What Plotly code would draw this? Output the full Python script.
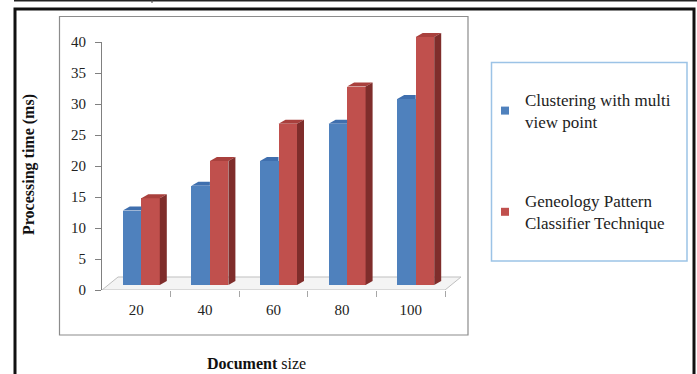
import plotly.graph_objects as go

# ---------------- data ----------------
categories = ["20", "40", "60", "80", "100"]
series_names = ["Clustering with multi<br>view point",
                "Geneology Pattern<br>Classifier Technique"]
clustering = [12, 16, 20, 26, 30]
geneology = [14, 20, 26, 32, 40]
y_ticks = [0, 5, 10, 15, 20, 25, 30, 35, 40]

# ---------------- geometry (pixels) ----------------
W, H = 697, 374
def px(x): return x / W
def py(y): return 1 - y / H

X_LEFT, X_RIGHT = 102, 445      # x axis span (category boundaries)
X_EXTRA = 22                    # room for the 3D floor on the right
Y_ZERO, Y_TOP = 290, 42         # tick 0 and tick 40
BAR_BASE = 285                  # front face base of the bars
Y2_BOTTOM, Y2_TOP = 330, 12     # domain of hidden bar axis
unit_y = (Y_ZERO - Y_TOP) / 40.0
unit_x = (X_RIGHT - X_LEFT) / len(categories)

y2_range = [-(Y2_BOTTOM - BAR_BASE) / unit_y, (BAR_BASE - Y2_TOP) / unit_y]
x_range = [-0.5, len(categories) - 0.5 + X_EXTRA / unit_x]

xs = list(range(len(categories)))
bar_w = 18.5 / unit_x
shift = 5 / unit_x
offsets = [shift - bar_w, shift]
ddx = 7 / unit_x                # 3D depth of bars
ddy = 4 / unit_y

FRONT = ["#4F81BD", "#C0504D"]
TOP = ["#3F6FAE", "#A9403D"]
SIDE = ["#385D8A", "#7F2D2B"]

fig = go.Figure()

# floor (parallelogram) on the visible axis
f_back = (Y_ZERO - 277) / unit_y
f_dx = 16 / unit_x
x_end = len(categories) - 0.5
fig.add_trace(go.Scatter(
    x=[-0.5, x_end, x_end + f_dx, -0.5 + f_dx, -0.5],
    y=[0, 0, f_back, f_back, 0],
    mode="lines", fill="toself", fillcolor="#F4F4F4",
    line=dict(color="#BFBFBF", width=1),
    xaxis="x", yaxis="y", showlegend=False, hoverinfo="skip"))

for k, vals in enumerate([clustering, geneology]):
    fig.add_trace(go.Bar(
        x=xs, y=vals, offset=offsets[k], width=bar_w,
        marker=dict(color=FRONT[k], line=dict(width=0)),
        name=series_names[k].replace("<br>", " "), showlegend=False,
        xaxis="x", yaxis="y2"))

# top and side faces computed from the data
for k, vals in enumerate([clustering, geneology]):
    tx, ty = [], []
    for i, v in zip(xs, vals):
        x0 = i + offsets[k]
        x1 = x0 + bar_w
        if k == 0:
            tx += [x0, x1, x1, x0 + ddx, x0, None]
        else:
            tx += [x0, x1, x1 + ddx, x0 + ddx, x0, None]
        ty += [v, v, v + ddy, v + ddy, v, None]
    fig.add_trace(go.Scatter(
        x=tx, y=ty, mode="lines", fill="toself", fillcolor=TOP[k],
        line=dict(width=0, color=TOP[k]), xaxis="x", yaxis="y2",
        showlegend=False, hoverinfo="skip"))
    if k == 1:
        sx, sy = [], []
        for i, v in zip(xs, vals):
            x1 = i + offsets[k] + bar_w
            sx += [x1, x1, x1 + ddx, x1 + ddx, x1, None]
            sy += [0, v, v + ddy, ddy, 0, None]
        fig.add_trace(go.Scatter(
            x=sx, y=sy, mode="lines", fill="toself", fillcolor=SIDE[k],
            line=dict(width=0, color=SIDE[k]), xaxis="x", yaxis="y2",
            showlegend=False, hoverinfo="skip"))

# legend entries
for k in range(2):
    fig.add_trace(go.Scatter(
        x=[None], y=[None], mode="markers", name=series_names[k],
        marker=dict(symbol="square", size=8, color=FRONT[k]),
        legendgroup=str(k), xaxis="x", yaxis="y"))

SERIF = "Liberation Serif, Times New Roman, serif"

fig.update_layout(
    width=W, height=H,
    margin=dict(l=0, r=0, t=0, b=0, autoexpand=False),
    paper_bgcolor="white", plot_bgcolor="rgba(0,0,0,0)",
    font=dict(family=SERIF, color="#222222", size=14),
    bargap=0,
    xaxis=dict(
        domain=[px(X_LEFT), px(X_RIGHT + X_EXTRA)], range=x_range,
        tickmode="array", tickvals=xs, ticktext=categories,
        ticks="", showgrid=False, zeroline=False, showline=False,
        tickfont=dict(family=SERIF, size=15, color="#222222"),
        ticklabelstandoff=9, automargin=False,
        minor=dict(tickmode="array", tickvals=[i + 0.5 for i in xs],
                   ticks="outside", ticklen=6, tickcolor="#A6A6A6",
                   tickwidth=1, showgrid=False),
        anchor="y", fixedrange=True),
    yaxis=dict(
        domain=[py(Y_ZERO), py(Y_TOP)], range=[0, 40],
        tickmode="array", tickvals=y_ticks,
        ticks="outside", ticklen=6, tickcolor="#808080",
        showline=True, linecolor="#808080", linewidth=1,
        showgrid=False, zeroline=False,
        tickfont=dict(family=SERIF, size=15, color="#222222"),
        ticklabelstandoff=6, automargin=False,
        anchor="x", fixedrange=True),
    yaxis2=dict(
        domain=[py(Y2_BOTTOM), py(Y2_TOP)], range=y2_range,
        visible=False, anchor="x", fixedrange=True, automargin=False),
    legend=dict(
        x=px(485), y=py(82), xanchor="left", yanchor="top",
        bgcolor="rgba(0,0,0,0)", borderwidth=0,
        traceorder="grouped", tracegroupgap=54,
        font=dict(family=SERIF, size=17, color="#222222")),
    showlegend=True,
)

shapes = [
    # thin top line and divider
    dict(type="line", xref="paper", yref="paper", x0=px(14), x1=px(697),
         y0=py(0.8), y1=py(0.8), line=dict(color="#222222", width=1.5)),
    dict(type="line", xref="paper", yref="paper", x0=px(152), x1=px(152),
         y0=py(0), y1=py(3), line=dict(color="#444444", width=1)),
    # outer thick frame
    dict(type="path", xref="paper", yref="paper",
         path=f"M {px(15)},{py(380)} L {px(15)},{py(9)} L {px(694)},{py(9)} L {px(694)},{py(380)}",
         line=dict(color="#111111", width=3)),
    # chart-area box
    dict(type="rect", xref="paper", yref="paper",
         x0=px(59.5), x1=px(468), y0=py(335), y1=py(16.5),
         line=dict(color="#8C8C8C", width=1.2)),
    # legend box
    dict(type="rect", xref="paper", yref="paper",
         x0=px(491.5), x1=px(687), y0=py(261), y1=py(62.5),
         line=dict(color="#9CC3E6", width=1.5)),
]
fig.update_layout(shapes=shapes)

fig.add_annotation(
    text="<b>Processing time (ms)</b>", xref="paper", yref="paper",
    x=px(29), y=py(165), textangle=-90, showarrow=False,
    font=dict(family=SERIF, size=16, color="#111111"),
    xanchor="center", yanchor="middle")
fig.add_annotation(
    text="<b>Document</b> size", xref="paper", yref="paper",
    x=px(256), y=py(363), showarrow=False,
    font=dict(family=SERIF, size=16, color="#111111"),
    xanchor="center", yanchor="middle")

fig.write_html("out.html")
